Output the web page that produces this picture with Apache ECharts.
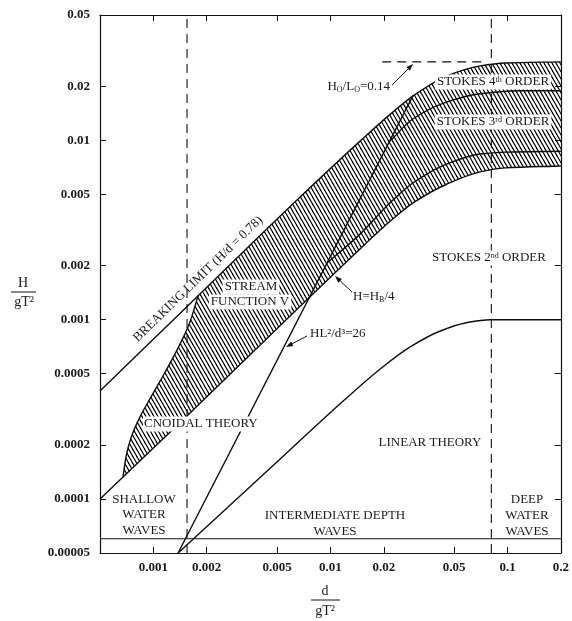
<!DOCTYPE html>
<html>
<head>
<meta charset="utf-8">
<script src="https://cdn.jsdelivr.net/npm/echarts@6/dist/echarts.min.js"></script>
<style>
html, body { margin: 0; padding: 0; background: #fff; }
#chart { width: 572px; height: 621px; }
</style>
</head>
<body>
<div id="chart"></div>
<script>
// tick values on the two log axes
var xTicks = [0.001, 0.002, 0.005, 0.01, 0.02, 0.05, 0.1, 0.2]
var xTickLabels = ['0.001', '0.002', '0.005', '0.01', '0.02', '0.05', '0.1', '0.2']
var yTicks = [0.00005, 0.0001, 0.0002, 0.0005, 0.001, 0.002, 0.005, 0.01, 0.02, 0.05]
var yTickLabels = ['0.00005', '0.0001', '0.0002', '0.0005', '0.001', '0.002', '0.005', '0.01', '0.02', '0.05']
var xRange = [0.0005, 0.2]
var yRange = [0.00005, 0.05]

// breaking limit (upper edge of the hatched band)
var breakX = [0.0005, 0.0016, 0.0067, 0.0147, 0.0218, 0.0293, 0.0456, 0.070, 0.097, 0.2]
var breakY = [0.0004, 0.00122, 0.0048, 0.0099, 0.0140, 0.0177, 0.0229, 0.0260, 0.0270, 0.0274]
// H = HB/4 (lower edge)
var quarterX = [0.0005, 0.00157, 0.0067, 0.0147, 0.0218, 0.0293, 0.0456, 0.070, 0.097, 0.2]
var quarterY = [0.0001, 0.000294, 0.00118, 0.00248, 0.00355, 0.00448, 0.00571, 0.00667, 0.00702, 0.0072]
// cnoidal / stream function boundary
var cnoidalX = [0.000675, 0.000701, 0.000748, 0.000841, 0.000971, 0.00115, 0.00138, 0.00161, 0.00179]
var cnoidalY = [0.000133, 0.000172, 0.000219, 0.000287, 0.000371, 0.000498, 0.000696, 0.000971, 0.00136]
// HL^2/d^3 = 26
var ursellX = [0.00138, 0.0293]
var ursellY = [0.00005, 0.0178]
// linear theory / stokes 2nd
var linearX = [0.00138, 0.0052, 0.0118, 0.0191, 0.0282, 0.0417, 0.0577, 0.08, 0.2]
var linearY = [0.00005, 0.000167, 0.000352, 0.000531, 0.000705, 0.000865, 0.000959, 0.001, 0.001]
// stokes 4th / 3rd
var stokes4X = [0.0215, 0.0293, 0.0456, 0.070, 0.118, 0.2]
var stokes4Y = [0.0098, 0.0132, 0.0164, 0.0182, 0.0189, 0.0189]
// stokes 3rd / 2nd
var stokes3X = [0.00958, 0.0147, 0.0218, 0.0293, 0.0456, 0.070, 0.097, 0.2]
var stokes3Y = [0.00207, 0.0030, 0.0045, 0.0058, 0.0074, 0.0084, 0.0086, 0.0087]

var depthLimits = [0.00155, 0.081]
var sepY = 0.00006
var steepX = [0.0196, 0.075]
var steepY = 0.0274

var serif = "'Liberation Serif', 'Times New Roman', serif"
var lg = Math.log10

function pairs(xs, ys) {
	return xs.map(function (x, i) { return [lg(x), lg(ys[i])] })
}

// hatch pattern
var hatch = document.createElement('canvas')
hatch.width = 4
hatch.height = 7
var hc = hatch.getContext('2d')
hc.strokeStyle = '#000'
hc.lineWidth = 1.15
for (var k = -1; k <= 1; k++) {
	hc.beginPath()
	hc.moveTo(k * 4 - 1, -7 / 4)
	hc.lineTo(k * 4 + 5, 7 + 7 / 4)
	hc.stroke()
}

// monotone cubic pieces in pixel space
function segs(p) {
	var n = p.length, dx = [], m = [], t = [], out = []
	if (n === 2) return [[p[0], p[0], p[1], p[1]]]
	for (var i = 0; i < n - 1; i++) {
		dx[i] = p[i + 1][0] - p[i][0]
		m[i] = (p[i + 1][1] - p[i][1]) / dx[i]
	}
	t[0] = m[0]
	t[n - 1] = m[n - 2]
	for (i = 1; i < n - 1; i++) {
		if (m[i - 1] * m[i] <= 0) t[i] = 0
		else t[i] = 3 * (dx[i - 1] + dx[i]) / ((2 * dx[i] + dx[i - 1]) / m[i - 1] + (dx[i] + 2 * dx[i - 1]) / m[i])
	}
	for (i = 0; i < n - 1; i++) {
		out.push([p[i],
			[p[i][0] + dx[i] / 3, p[i][1] + t[i] * dx[i] / 3],
			[p[i + 1][0] - dx[i] / 3, p[i + 1][1] - t[i + 1] * dx[i] / 3],
			p[i + 1]])
	}
	return out
}
function pt(p) { return p[0].toFixed(2) + ' ' + p[1].toFixed(2) }
function bez(s) {
	var d = ''
	s.forEach(function (c) { d += 'C' + pt(c[1]) + ' ' + pt(c[2]) + ' ' + pt(c[3]) })
	return d
}
function rev(s) {
	return s.slice().reverse().map(function (c) { return [c[3], c[2], c[1], c[0]] })
}

function renderCurves(params, api) {
	function toPx(list) { return list.map(function (p) { return api.coord(p) }) }
	var cnoD = pairs(cnoidalX, cnoidalY)
	var cnoTop = cnoD[cnoD.length - 1], cnoBot = cnoD[0]
	var top = toPx([cnoTop].concat(pairs(breakX, breakY).filter(function (p) { return p[0] > cnoTop[0] })))
	var low = toPx([cnoBot].concat(pairs(quarterX, quarterY).filter(function (p) { return p[0] > cnoBot[0] })))
	var cno = toPx(cnoD)
	var lowRev = rev(segs(low))
	var area = 'M' + pt(top[0]) + bez(segs(top)) + 'L' + pt(lowRev[0][0]) + bez(lowRev) + bez(segs(cno)) + 'Z'

	var curves = [
		pairs(breakX, breakY), pairs(quarterX, quarterY), cnoD,
		pairs(ursellX, ursellY), pairs(linearX, linearY),
		pairs(stokes4X, stokes4Y), pairs(stokes3X, stokes3Y)
	]
	var children = [{
		type: 'path',
		shape: { pathData: area },
		style: { fill: { image: hatch, repeat: 'repeat' }, stroke: 'none' }
	}]
	curves.forEach(function (c) {
		var p = toPx(c)
		children.push({
			type: 'path',
			shape: { pathData: 'M' + pt(p[0]) + bez(segs(p)) },
			style: { fill: 'none', stroke: '#0d0d0d', lineWidth: 1.4 }
		})
	})
	return { type: 'group', children: children }
}

function straight(data, dashed) {
	return {
		type: 'line', data: data, symbol: 'none', silent: true, z: 3,
		lineStyle: { color: '#111', width: 1.1, type: dashed ? [9, 6] : 'solid' }
	}
}

function text(x, y, str, extra) {
	var st = {
		text: str, fill: '#1a1a1a', fontFamily: serif, fontSize: 13,
		align: 'center', verticalAlign: 'middle'
	}
	for (var key in (extra || {})) st[key] = extra[key]
	return { type: 'text', x: x, y: y, z: 100, style: st }
}
function sup(size) { return { fontSize: size || 8, fontFamily: serif, fill: '#1a1a1a', verticalAlign: 'top' } }
function sub() { return { fontSize: 8, fontFamily: serif, fill: '#1a1a1a', verticalAlign: 'bottom' } }
function arrow(x1, y1, x2, y2) {
	var dx = x2 - x1, dy = y2 - y1, len = Math.sqrt(dx * dx + dy * dy)
	var ux = dx / len, uy = dy / len
	var bx = x2 - ux * 7, by = y2 - uy * 7
	return [
		{ type: 'line', z: 100, shape: { x1: x1, y1: y1, x2: bx, y2: by }, style: { stroke: '#111', lineWidth: 1 } },
		{ type: 'polygon', z: 100, shape: { points: [[x2, y2], [bx - uy * 2.6, by + ux * 2.6], [bx + uy * 2.6, by - ux * 2.6]] }, style: { fill: '#111' } }
	]
}

var xTickLog = xTicks.map(lg)
var yTickLog = yTicks.map(lg)
function fmt(ticks, labels) {
	return function (v) {
		for (var i = 0; i < ticks.length; i++) if (Math.abs(lg(ticks[i]) - v) < 1e-6) return labels[i]
		return ''
	}
}

var axisBase = {
	type: 'value',
	axisLine: { show: true, onZero: false, lineStyle: { color: '#111', width: 1.2 } },
	splitLine: { show: false }
}
function axis(extra) {
	var a = JSON.parse(JSON.stringify(axisBase))
	for (var key in extra) a[key] = extra[key]
	return a
}

var graphics = [
	text(23, 283, 'H', { fontSize: 14 }),
	{ type: 'line', z: 100, shape: { x1: 11, y1: 292, x2: 36, y2: 292 }, style: { stroke: '#111', lineWidth: 1 } },
	text(24, 302, 'gT²', { fontSize: 14 }),
	text(325, 591, 'd', { fontSize: 14 }),
	{ type: 'line', z: 100, shape: { x1: 311, y1: 600, x2: 340, y2: 600 }, style: { stroke: '#111', lineWidth: 1 } },
	text(325, 611, 'gT²', { fontSize: 14 }),

	text(144, 515, 'SHALLOW\nWATER\nWAVES', { lineHeight: 15.5 }),
	text(335, 524, 'INTERMEDIATE DEPTH\nWAVES', { lineHeight: 16 }),
	text(527, 516, 'DEEP\nWATER\nWAVES', { lineHeight: 16 }),
	text(489, 258, 'STOKES 2{s|nd} ORDER', { rich: { s: sup() }, backgroundColor: '#fff', padding: [1, 2] }),
	text(430, 443, 'LINEAR THEORY'),
	text(143, 424, 'CNOIDAL THEORY', { align: 'left', backgroundColor: '#fff', padding: [1, 1] }),
	text(251, 287, 'STREAM', { backgroundColor: '#fff', padding: [1, 2] }),
	text(250, 302, 'FUNCTION V', { backgroundColor: '#fff', padding: [1, 2] }),
	{
		type: 'text', x: 198, y: 279, rotation: 0.77, z: 100,
		style: { text: 'BREAKING LIMIT (H/d = 0.78)', fill: '#1a1a1a', fontFamily: serif, fontSize: 13, align: 'center', verticalAlign: 'middle' }
	},
	text(353, 297, 'H=H{b|B}/4', { align: 'left', rich: { b: sub() } }),
	text(310, 334, 'HL²/d³=26', { align: 'left' }),
	text(390, 87, 'H{b|O}/L{b|O}=0.14', { align: 'right', rich: { b: sub() } }),
	text(493, 82, 'STOKES 4{s|th} ORDER', { rich: { s: sup() }, backgroundColor: '#fff', padding: [1, 2] }),
	text(493, 122, 'STOKES 3{s|rd} ORDER', { rich: { s: sup() }, backgroundColor: '#fff', padding: [1, 2] })
].concat(arrow(392, 85, 413, 64), arrow(352, 292, 335, 276), arrow(307, 336, 286, 347))

var option = {
	animation: false,
	backgroundColor: '#fff',
	grid: { left: 100, right: 11, top: 15, bottom: 68 },
	xAxis: [
		axis({
			min: lg(xRange[0]), max: lg(xRange[1]),
			axisTick: { inside: true, length: 6, customValues: xTickLog, lineStyle: { color: '#111' } },
			axisLabel: {
				customValues: xTickLog, formatter: fmt(xTicks, xTickLabels), margin: 8,
				color: '#1a1a1a', fontFamily: serif, fontSize: 13, fontWeight: 'bold'
			}
		}),
		axis({
			position: 'top', min: lg(xRange[0]), max: lg(xRange[1]),
			axisTick: { inside: true, length: 6, customValues: xTickLog, lineStyle: { color: '#111' } },
			axisLabel: { show: false }
		})
	],
	yAxis: [
		axis({
			min: lg(yRange[0]), max: lg(yRange[1]),
			axisTick: { inside: true, length: 6, customValues: yTickLog, lineStyle: { color: '#111' } },
			axisLabel: {
				customValues: yTickLog, formatter: fmt(yTicks, yTickLabels), margin: 10,
				color: '#1a1a1a', fontFamily: serif, fontSize: 13, fontWeight: 'bold'
			}
		}),
		axis({
			position: 'right', min: lg(yRange[0]), max: lg(yRange[1]),
			axisTick: { inside: true, length: 6, customValues: yTickLog, lineStyle: { color: '#111' } },
			axisLabel: { show: false }
		})
	],
	series: [
		{ type: 'custom', renderItem: renderCurves, data: [[0, 0]], z: 2, silent: true },
		straight([[lg(depthLimits[0]), lg(yRange[0])], [lg(depthLimits[0]), lg(yRange[1])]], true),
		straight([[lg(depthLimits[1]), lg(yRange[0])], [lg(depthLimits[1]), lg(yRange[1])]], true),
		straight([[lg(xRange[0]), lg(sepY)], [lg(xRange[1]), lg(sepY)]], false),
		straight([[lg(steepX[0]), lg(steepY)], [lg(steepX[1]), lg(steepY)]], true)
	],
	graphic: graphics
}

var chart = echarts.init(document.getElementById('chart'))
chart.setOption(option)
</script>
</body>
</html>
